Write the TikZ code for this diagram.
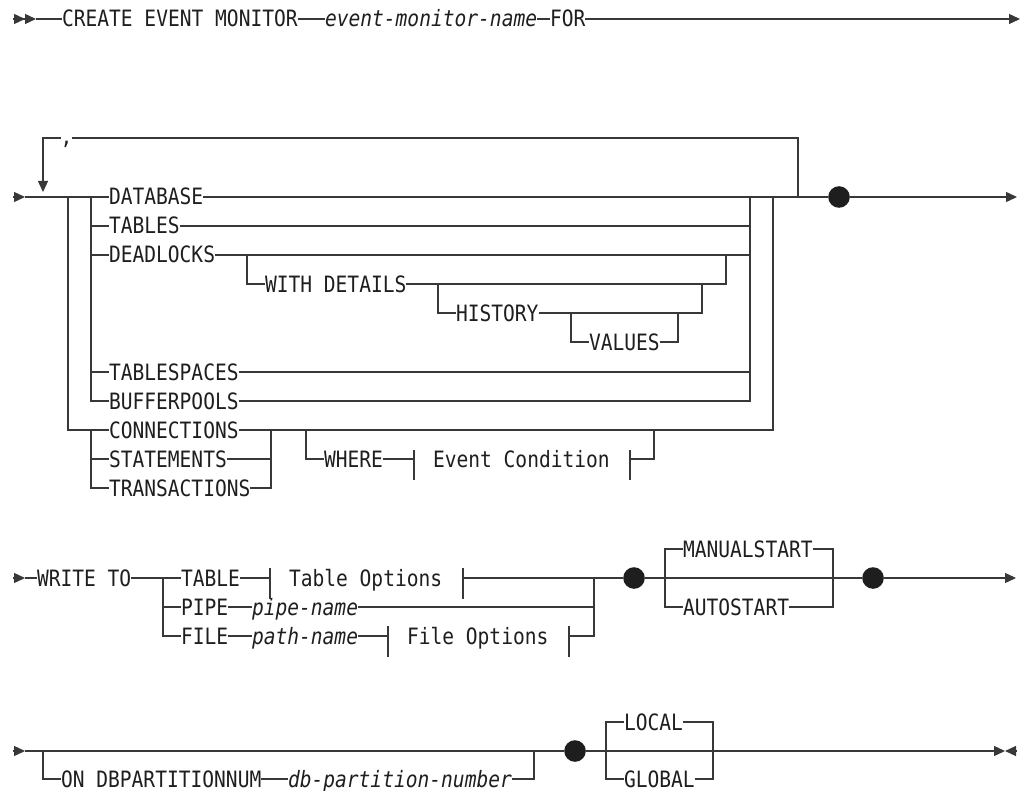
\documentclass[tikz,border=0pt]{standalone}
\usepackage{fontspec}
\usetikzlibrary{arrows.meta}
\newfontfamily\rrfont{DejaVu Sans Mono}[FakeStretch=0.87]
\definecolor{rrline}{HTML}{383838}
\definecolor{rrtext}{HTML}{1E1E1E}

\begin{document}
\begin{tikzpicture}[x=1pt,y=-1pt,
  rr/.style={draw=rrline,line width=1.3pt},
  kw/.style={anchor=west,inner sep=0pt,outer sep=0pt,text=rrtext,
             font=\rrfont\fontsize{22.5}{27}\selectfont,
             text height=16pt,text depth=0pt},
  var/.style={kw,font=\rrfont\itshape\fontsize{22.5}{27}\selectfont},
  dot/.style={circle,fill=rrtext,minimum size=21.6pt,inner sep=0pt},
  tip/.style={-{Triangle[length=11pt,width=10pt]}},
  twotip/.style={-{Triangle[length=11pt,width=10pt]Triangle[length=11pt,width=10pt]}},
  backtip/.style={{Triangle[length=11pt,width=10pt]}-}
]
\useasboundingbox (0,0) rectangle (1024,791);

% ---- Row 1 --------------------------------------------------
\coordinate (a0) at (13,19);
\coordinate (a1) at (36,19);
\node[kw]  (cem) at (62,19)  {CREATE EVENT MONITOR};
\node[var] (emn) at (325,19) {event-monitor-name};
\node[kw]  (for) at (550,19) {FOR};
\coordinate (a2) at (1020,19);

\draw[rr,twotip] (a0) -- (a1);
\draw[rr] (a1) -- (cem.west);
\draw[rr] (cem.east) -- (emn.west);
\draw[rr] (emn.east) -- (for.west);
\draw[rr,tip] (for.east) -- (a2);

% ---- Row 2: event types -------------------------------------
\coordinate (b0) at (25,197);
\coordinate (b1) at (68,197);   % outer split
\coordinate (b2) at (91,197);   % inner split
\coordinate (b3) at (750,197);  % inner join
\coordinate (b4) at (773,197);  % outer join
\coordinate (b5) at (798,197);  % repeat
\coordinate (b6) at (1017,197);
\coordinate (r1) at (43,192);

\node[kw] (cma) at (60.5,138) [text height=13pt] {,};
\node[kw] (dbs) at (109,197) {DATABASE};
\node[kw] (tbl) at (109,226) {TABLES};
\node[kw] (dlk) at (109,255) {DEADLOCKS};
\node[kw] (wdt) at (265,284) {WITH DETAILS};
\node[kw] (his) at (456,313) {HISTORY};
\node[kw] (val) at (589,342) {VALUES};
\node[kw] (tsp) at (109,372) {TABLESPACES};
\node[kw] (bfp) at (109,401) {BUFFERPOOLS};
\node[kw] (con) at (109,430) {CONNECTIONS};
\node[kw] (stm) at (109,459) {STATEMENTS};
\node[kw] (trn) at (109,488) {TRANSACTIONS};
\node[kw] (whr) at (324,459) {WHERE};
\node[kw] (ecn) at (433,459) {Event Condition};
\node[dot] (d1) at (839,197) {};

\draw[rr,tip] ([xshift=-12pt]b0) -- (b0);
\draw[rr] (b0) -- (dbs.west);
\draw[rr] (dbs.east) -- (d1);
\draw[rr,tip] (d1) -- (b6);

% repeat loop
\draw[rr] (b5) |- (cma.east);
\draw[rr,tip] (cma.west) -| (r1);

% inner choice
\draw[rr] (b2) |- (tbl.west);
\draw[rr] (b2) |- (dlk.west);
\draw[rr] (b2) |- (tsp.west);
\draw[rr] (b2) |- (bfp.west);
\draw[rr] (tbl.east) -| (b3);
\draw[rr] (dlk.east) -| (b3);
\draw[rr] (tsp.east) -| (b3);
\draw[rr] (bfp.east) -| (b3);

% deadlock details
\coordinate (c1) at (247,255);
\coordinate (c2) at (726,255);
\coordinate (c3) at (438,284);
\coordinate (c4) at (702,284);
\coordinate (c5) at (571,313);
\coordinate (c6) at (678,313);
\draw[rr] (c1) |- (wdt.west);
\draw[rr] (wdt.east) -| (c2);
\draw[rr] (c3) |- (his.west);
\draw[rr] (his.east) -| (c4);
\draw[rr] (c5) |- (val.west);
\draw[rr] (val.east) -| (c6);

% outer choice
\coordinate (k0) at (91,430);
\coordinate (k1) at (271,430);
\coordinate (k2) at (306,430);
\coordinate (k3) at (414,459);
\coordinate (k4) at (630,459);
\coordinate (k5) at (654,430);
\draw[rr] (b1) |- (con.west);
\draw[rr] (con.east) -| (b4);
\draw[rr] (k0) |- (stm.west);
\draw[rr] (k0) |- (trn.west);
\draw[rr] (stm.east) -| (k1);
\draw[rr] (trn.east) -| (k1);
\draw[rr] (k2) |- (whr.west);
\draw[rr] (whr.east) -- (k3);
\draw[rr] ([yshift=9pt]k3) -- ([yshift=-21pt]k3);
\draw[rr] ([yshift=9pt]k4) -- ([yshift=-21pt]k4);
\draw[rr] (k4) -| (k5);

% ---- Row 3: target ------------------------------------------
\coordinate (w0) at (25,578);
\coordinate (w1) at (163,578);
\coordinate (w2) at (594,578);
\coordinate (w3) at (665,578);
\coordinate (w4) at (833,578);
\coordinate (w5) at (1016,578);
\coordinate (t1) at (270,578);
\coordinate (t2) at (463,578);
\coordinate (f1) at (388,636);
\coordinate (f2) at (569,636);

\node[kw]  (wto) at (37,578)  {WRITE TO};
\node[kw]  (tab) at (181,578) {TABLE};
\node[kw]  (tbo) at (289,578) {Table Options};
\node[kw]  (pip) at (181,607) {PIPE};
\node[var] (ppn) at (252,607) {pipe-name};
\node[kw]  (fil) at (181,636) {FILE};
\node[var] (pan) at (252,636) {path-name};
\node[kw]  (flo) at (407,636) {File Options};
\node[kw]  (mst) at (683,549) {MANUALSTART};
\node[kw]  (ast) at (683,607) {AUTOSTART};
\node[dot] (d2) at (634,578) {};
\node[dot] (d3) at (873,578) {};

\draw[rr,tip] ([xshift=-12pt]w0) -- (w0);
\draw[rr] (w0) -- (wto.west);
\draw[rr] (wto.east) -- (tab.west);
\draw[rr] (w1) |- (pip.west);
\draw[rr] (w1) |- (fil.west);
\draw[rr] (tab.east) -- (t1);
\draw[rr] ([yshift=10pt]t1) -- ([yshift=-21pt]t1);
\draw[rr] ([yshift=10pt]t2) -- ([yshift=-21pt]t2);
\draw[rr] (t2) -- (d2);
\draw[rr] (pip.east) -- (ppn.west);
\draw[rr] (ppn.east) -| (w2);
\draw[rr] (fil.east) -- (pan.west);
\draw[rr] (pan.east) -- (f1);
\draw[rr] ([yshift=10pt]f1) -- ([yshift=-21pt]f1);
\draw[rr] ([yshift=10pt]f2) -- ([yshift=-21pt]f2);
\draw[rr] (f2) -| (w2);
\draw[rr] (d2) -- (d3);
\draw[rr] (w3) |- (mst.west);
\draw[rr] (w3) |- (ast.west);
\draw[rr] (mst.east) -| (w4);
\draw[rr] (ast.east) -| (w4);
\draw[rr,tip] (d3) -- (w5);

% ---- Row 4: partition / scope -------------------------------
\coordinate (p0) at (25,751);
\coordinate (p1) at (43,751);
\coordinate (p2) at (534,751);
\coordinate (p3) at (606,751);
\coordinate (p4) at (713,751);
\coordinate (p5) at (1005,751);
\coordinate (p6) at (1017,751);
\coordinate (q1) at (718,751);
\coordinate (q2) at (743,751);

\node[kw]  (odb) at (61,779)  {ON DBPARTITIONNUM};
\node[var] (dpn) at (288,779) {db-partition-number};
\node[kw]  (loc) at (624,722) {LOCAL};
\node[kw]  (glb) at (624,779) {GLOBAL};
\node[dot] (d4) at (575,751) {};

\draw[rr,tip] ([xshift=-12pt]p0) -- (p0);
\draw[rr] (p0) -- (d4);
\draw[rr] (p1) |- (odb.west);
\draw[rr] (odb.east) -- (dpn.west);
\draw[rr] (dpn.east) -| (p2);
\draw[rr] (d4) -- (p4);
\draw[rr] (p3) |- (loc.west);
\draw[rr] (p3) |- (glb.west);
\draw[rr] (loc.east) -| (p4);
\draw[rr] (glb.east) -| (p4);
\draw[rr,line width=2.4pt] (q1) -- (q2);
\draw[rr,tip] (p4) -- (p5);
\draw[rr,backtip] (p5) -- (p6);

\end{tikzpicture}
\end{document}
